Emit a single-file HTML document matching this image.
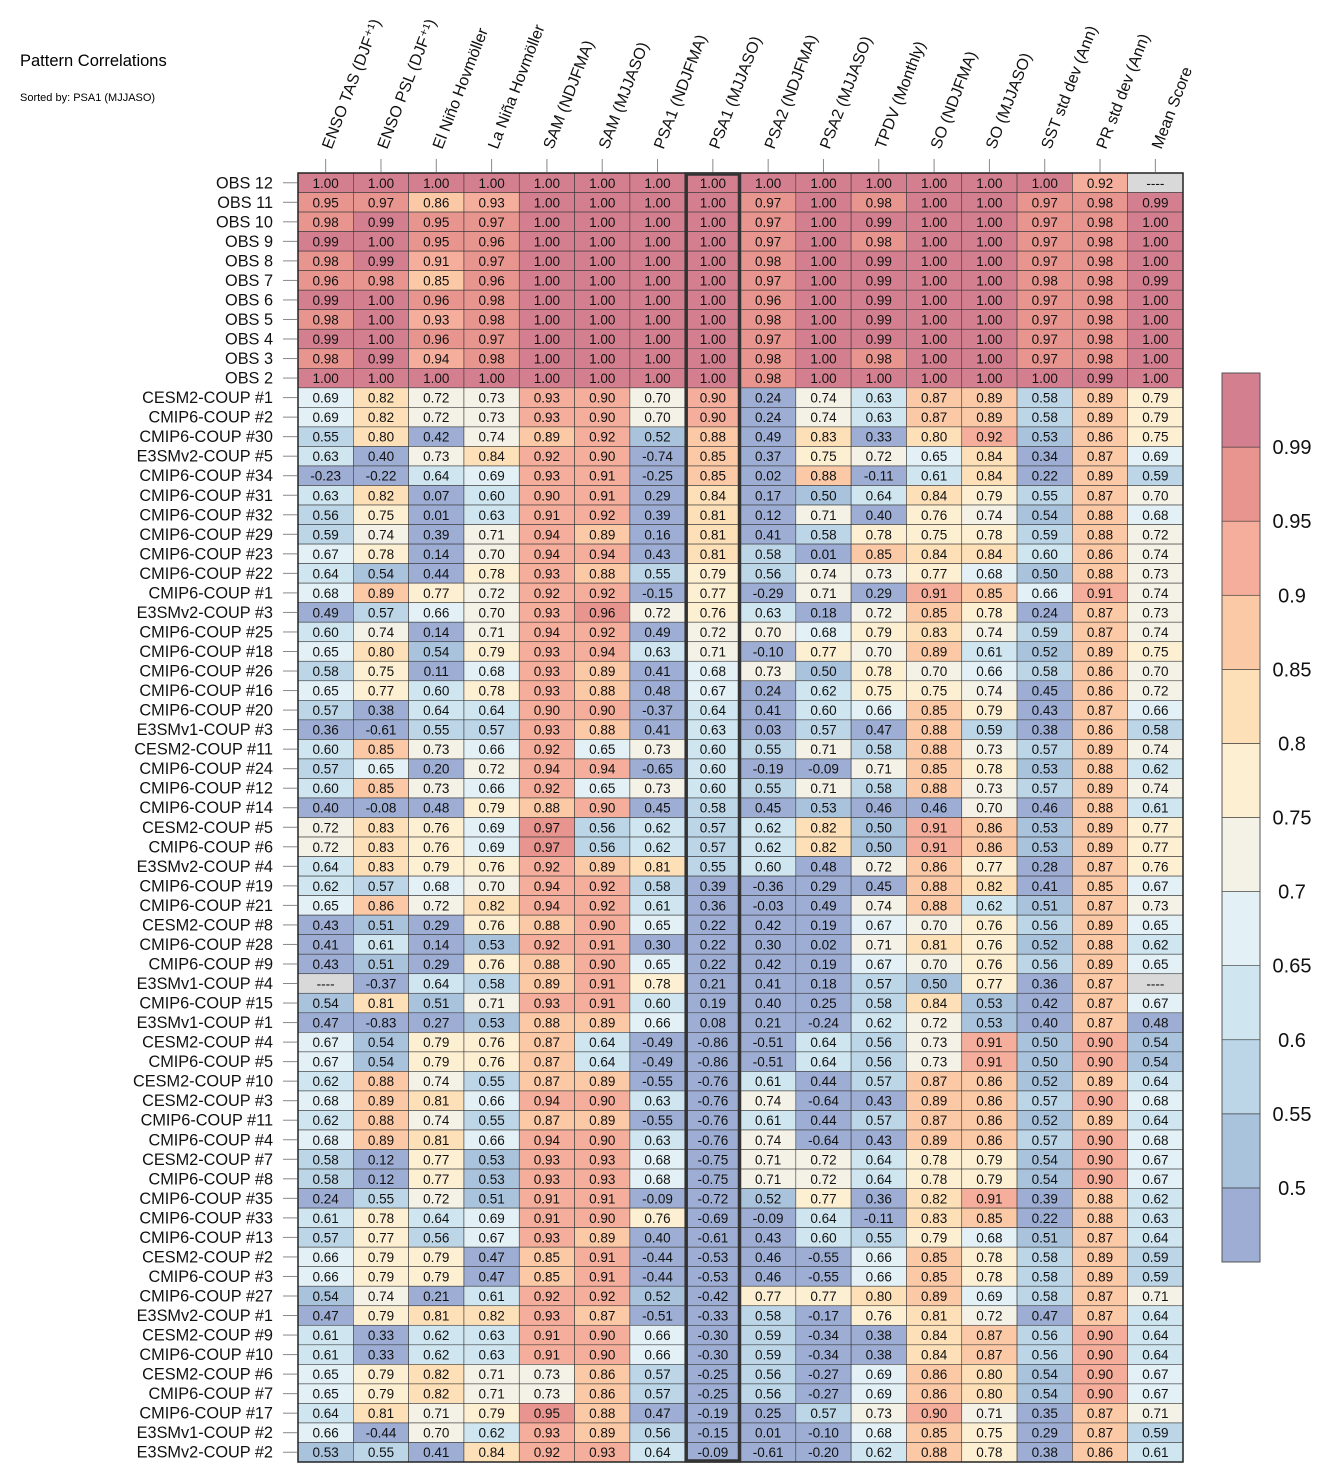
<!DOCTYPE html>
<html><head><meta charset="utf-8"><style>
body{margin:0;background:#fff;}
svg{display:block;font-family:"Liberation Sans",sans-serif;}
</style></head><body>
<svg id="chart" width="1333" height="1484" xmlns="http://www.w3.org/2000/svg">
<text x="20" y="66" font-size="16.5">Pattern Correlations</text>
<text x="20" y="101" font-size="11">Sorted by: PSA1 (MJJASO)</text>
<g id="cells"></g>
<g id="rowlabels"></g>
<g id="collabels"></g>
<g id="cbar"></g>
</svg>
<script>
const columns=["ENSO TAS (DJF⁺¹)","ENSO PSL (DJF⁺¹)","El Niño Hovmöller","La Niña Hovmöller","SAM (NDJFMA)","SAM (MJJASO)","PSA1 (NDJFMA)","PSA1 (MJJASO)","PSA2 (NDJFMA)","PSA2 (MJJASO)","TPDV (Monthly)","SO (NDJFMA)","SO (MJJASO)","SST std dev (Ann)","PR std dev (Ann)","Mean Score"];
const rows=["OBS 12","OBS 11","OBS 10","OBS 9","OBS 8","OBS 7","OBS 6","OBS 5","OBS 4","OBS 3","OBS 2","CESM2-COUP  #1","CMIP6-COUP  #2","CMIP6-COUP  #30","E3SMv2-COUP #5","CMIP6-COUP  #34","CMIP6-COUP  #31","CMIP6-COUP  #32","CMIP6-COUP  #29","CMIP6-COUP  #23","CMIP6-COUP  #22","CMIP6-COUP  #1","E3SMv2-COUP #3","CMIP6-COUP  #25","CMIP6-COUP  #18","CMIP6-COUP  #26","CMIP6-COUP  #16","CMIP6-COUP  #20","E3SMv1-COUP #3","CESM2-COUP  #11","CMIP6-COUP  #24","CMIP6-COUP  #12","CMIP6-COUP  #14","CESM2-COUP  #5","CMIP6-COUP  #6","E3SMv2-COUP #4","CMIP6-COUP  #19","CMIP6-COUP  #21","CESM2-COUP  #8","CMIP6-COUP  #28","CMIP6-COUP  #9","E3SMv1-COUP #4","CMIP6-COUP  #15","E3SMv1-COUP #1","CESM2-COUP  #4","CMIP6-COUP  #5","CESM2-COUP  #10","CESM2-COUP  #3","CMIP6-COUP  #11","CMIP6-COUP  #4","CESM2-COUP  #7","CMIP6-COUP  #8","CMIP6-COUP  #35","CMIP6-COUP  #33","CMIP6-COUP  #13","CESM2-COUP  #2","CMIP6-COUP  #3","CMIP6-COUP  #27","E3SMv2-COUP #1","CESM2-COUP  #9","CMIP6-COUP  #10","CESM2-COUP  #6","CMIP6-COUP  #7","CMIP6-COUP  #17","E3SMv1-COUP #2","E3SMv2-COUP #2"];
const N=null;
const values=[
[1.00,1.00,1.00,1.00,1.00,1.00,1.00,1.00,1.00,1.00,1.00,1.00,1.00,1.00,0.92,N],
[0.95,0.97,0.86,0.93,1.00,1.00,1.00,1.00,0.97,1.00,0.98,1.00,1.00,0.97,0.98,0.99],
[0.98,0.99,0.95,0.97,1.00,1.00,1.00,1.00,0.97,1.00,0.99,1.00,1.00,0.97,0.98,1.00],
[0.99,1.00,0.95,0.96,1.00,1.00,1.00,1.00,0.97,1.00,0.98,1.00,1.00,0.97,0.98,1.00],
[0.98,0.99,0.91,0.97,1.00,1.00,1.00,1.00,0.98,1.00,0.99,1.00,1.00,0.97,0.98,1.00],
[0.96,0.98,0.85,0.96,1.00,1.00,1.00,1.00,0.97,1.00,0.99,1.00,1.00,0.98,0.98,0.99],
[0.99,1.00,0.96,0.98,1.00,1.00,1.00,1.00,0.96,1.00,0.99,1.00,1.00,0.97,0.98,1.00],
[0.98,1.00,0.93,0.98,1.00,1.00,1.00,1.00,0.98,1.00,0.99,1.00,1.00,0.97,0.98,1.00],
[0.99,1.00,0.96,0.97,1.00,1.00,1.00,1.00,0.97,1.00,0.99,1.00,1.00,0.97,0.98,1.00],
[0.98,0.99,0.94,0.98,1.00,1.00,1.00,1.00,0.98,1.00,0.98,1.00,1.00,0.97,0.98,1.00],
[1.00,1.00,1.00,1.00,1.00,1.00,1.00,1.00,0.98,1.00,1.00,1.00,1.00,1.00,0.99,1.00],
[0.69,0.82,0.72,0.73,0.93,0.90,0.70,0.90,0.24,0.74,0.63,0.87,0.89,0.58,0.89,0.79],
[0.69,0.82,0.72,0.73,0.93,0.90,0.70,0.90,0.24,0.74,0.63,0.87,0.89,0.58,0.89,0.79],
[0.55,0.80,0.42,0.74,0.89,0.92,0.52,0.88,0.49,0.83,0.33,0.80,0.92,0.53,0.86,0.75],
[0.63,0.40,0.73,0.84,0.92,0.90,-0.74,0.85,0.37,0.75,0.72,0.65,0.84,0.34,0.87,0.69],
[-0.23,-0.22,0.64,0.69,0.93,0.91,-0.25,0.85,0.02,0.88,-0.11,0.61,0.84,0.22,0.89,0.59],
[0.63,0.82,0.07,0.60,0.90,0.91,0.29,0.84,0.17,0.50,0.64,0.84,0.79,0.55,0.87,0.70],
[0.56,0.75,0.01,0.63,0.91,0.92,0.39,0.81,0.12,0.71,0.40,0.76,0.74,0.54,0.88,0.68],
[0.59,0.74,0.39,0.71,0.94,0.89,0.16,0.81,0.41,0.58,0.78,0.75,0.78,0.59,0.88,0.72],
[0.67,0.78,0.14,0.70,0.94,0.94,0.43,0.81,0.58,0.01,0.85,0.84,0.84,0.60,0.86,0.74],
[0.64,0.54,0.44,0.78,0.93,0.88,0.55,0.79,0.56,0.74,0.73,0.77,0.68,0.50,0.88,0.73],
[0.68,0.89,0.77,0.72,0.92,0.92,-0.15,0.77,-0.29,0.71,0.29,0.91,0.85,0.66,0.91,0.74],
[0.49,0.57,0.66,0.70,0.93,0.96,0.72,0.76,0.63,0.18,0.72,0.85,0.78,0.24,0.87,0.73],
[0.60,0.74,0.14,0.71,0.94,0.92,0.49,0.72,0.70,0.68,0.79,0.83,0.74,0.59,0.87,0.74],
[0.65,0.80,0.54,0.79,0.93,0.94,0.63,0.71,-0.10,0.77,0.70,0.89,0.61,0.52,0.89,0.75],
[0.58,0.75,0.11,0.68,0.93,0.89,0.41,0.68,0.73,0.50,0.78,0.70,0.66,0.58,0.86,0.70],
[0.65,0.77,0.60,0.78,0.93,0.88,0.48,0.67,0.24,0.62,0.75,0.75,0.74,0.45,0.86,0.72],
[0.57,0.38,0.64,0.64,0.90,0.90,-0.37,0.64,0.41,0.60,0.66,0.85,0.79,0.43,0.87,0.66],
[0.36,-0.61,0.55,0.57,0.93,0.88,0.41,0.63,0.03,0.57,0.47,0.88,0.59,0.38,0.86,0.58],
[0.60,0.85,0.73,0.66,0.92,0.65,0.73,0.60,0.55,0.71,0.58,0.88,0.73,0.57,0.89,0.74],
[0.57,0.65,0.20,0.72,0.94,0.94,-0.65,0.60,-0.19,-0.09,0.71,0.85,0.78,0.53,0.88,0.62],
[0.60,0.85,0.73,0.66,0.92,0.65,0.73,0.60,0.55,0.71,0.58,0.88,0.73,0.57,0.89,0.74],
[0.40,-0.08,0.48,0.79,0.88,0.90,0.45,0.58,0.45,0.53,0.46,0.46,0.70,0.46,0.88,0.61],
[0.72,0.83,0.76,0.69,0.97,0.56,0.62,0.57,0.62,0.82,0.50,0.91,0.86,0.53,0.89,0.77],
[0.72,0.83,0.76,0.69,0.97,0.56,0.62,0.57,0.62,0.82,0.50,0.91,0.86,0.53,0.89,0.77],
[0.64,0.83,0.79,0.76,0.92,0.89,0.81,0.55,0.60,0.48,0.72,0.86,0.77,0.28,0.87,0.76],
[0.62,0.57,0.68,0.70,0.94,0.92,0.58,0.39,-0.36,0.29,0.45,0.88,0.82,0.41,0.85,0.67],
[0.65,0.86,0.72,0.82,0.94,0.92,0.61,0.36,-0.03,0.49,0.74,0.88,0.62,0.51,0.87,0.73],
[0.43,0.51,0.29,0.76,0.88,0.90,0.65,0.22,0.42,0.19,0.67,0.70,0.76,0.56,0.89,0.65],
[0.41,0.61,0.14,0.53,0.92,0.91,0.30,0.22,0.30,0.02,0.71,0.81,0.76,0.52,0.88,0.62],
[0.43,0.51,0.29,0.76,0.88,0.90,0.65,0.22,0.42,0.19,0.67,0.70,0.76,0.56,0.89,0.65],
[N,-0.37,0.64,0.58,0.89,0.91,0.78,0.21,0.41,0.18,0.57,0.50,0.77,0.36,0.87,N],
[0.54,0.81,0.51,0.71,0.93,0.91,0.60,0.19,0.40,0.25,0.58,0.84,0.53,0.42,0.87,0.67],
[0.47,-0.83,0.27,0.53,0.88,0.89,0.66,0.08,0.21,-0.24,0.62,0.72,0.53,0.40,0.87,0.48],
[0.67,0.54,0.79,0.76,0.87,0.64,-0.49,-0.86,-0.51,0.64,0.56,0.73,0.91,0.50,0.90,0.54],
[0.67,0.54,0.79,0.76,0.87,0.64,-0.49,-0.86,-0.51,0.64,0.56,0.73,0.91,0.50,0.90,0.54],
[0.62,0.88,0.74,0.55,0.87,0.89,-0.55,-0.76,0.61,0.44,0.57,0.87,0.86,0.52,0.89,0.64],
[0.68,0.89,0.81,0.66,0.94,0.90,0.63,-0.76,0.74,-0.64,0.43,0.89,0.86,0.57,0.90,0.68],
[0.62,0.88,0.74,0.55,0.87,0.89,-0.55,-0.76,0.61,0.44,0.57,0.87,0.86,0.52,0.89,0.64],
[0.68,0.89,0.81,0.66,0.94,0.90,0.63,-0.76,0.74,-0.64,0.43,0.89,0.86,0.57,0.90,0.68],
[0.58,0.12,0.77,0.53,0.93,0.93,0.68,-0.75,0.71,0.72,0.64,0.78,0.79,0.54,0.90,0.67],
[0.58,0.12,0.77,0.53,0.93,0.93,0.68,-0.75,0.71,0.72,0.64,0.78,0.79,0.54,0.90,0.67],
[0.24,0.55,0.72,0.51,0.91,0.91,-0.09,-0.72,0.52,0.77,0.36,0.82,0.91,0.39,0.88,0.62],
[0.61,0.78,0.64,0.69,0.91,0.90,0.76,-0.69,-0.09,0.64,-0.11,0.83,0.85,0.22,0.88,0.63],
[0.57,0.77,0.56,0.67,0.93,0.89,0.40,-0.61,0.43,0.60,0.55,0.79,0.68,0.51,0.87,0.64],
[0.66,0.79,0.79,0.47,0.85,0.91,-0.44,-0.53,0.46,-0.55,0.66,0.85,0.78,0.58,0.89,0.59],
[0.66,0.79,0.79,0.47,0.85,0.91,-0.44,-0.53,0.46,-0.55,0.66,0.85,0.78,0.58,0.89,0.59],
[0.54,0.74,0.21,0.61,0.92,0.92,0.52,-0.42,0.77,0.77,0.80,0.89,0.69,0.58,0.87,0.71],
[0.47,0.79,0.81,0.82,0.93,0.87,-0.51,-0.33,0.58,-0.17,0.76,0.81,0.72,0.47,0.87,0.64],
[0.61,0.33,0.62,0.63,0.91,0.90,0.66,-0.30,0.59,-0.34,0.38,0.84,0.87,0.56,0.90,0.64],
[0.61,0.33,0.62,0.63,0.91,0.90,0.66,-0.30,0.59,-0.34,0.38,0.84,0.87,0.56,0.90,0.64],
[0.65,0.79,0.82,0.71,0.73,0.86,0.57,-0.25,0.56,-0.27,0.69,0.86,0.80,0.54,0.90,0.67],
[0.65,0.79,0.82,0.71,0.73,0.86,0.57,-0.25,0.56,-0.27,0.69,0.86,0.80,0.54,0.90,0.67],
[0.64,0.81,0.71,0.79,0.95,0.88,0.47,-0.19,0.25,0.57,0.73,0.90,0.71,0.35,0.87,0.71],
[0.66,-0.44,0.70,0.62,0.93,0.89,0.56,-0.15,0.01,-0.10,0.68,0.85,0.75,0.29,0.87,0.59],
[0.53,0.55,0.41,0.84,0.92,0.93,0.64,-0.09,-0.61,-0.20,0.62,0.88,0.78,0.38,0.86,0.61]
];
const levels=[0.5,0.55,0.6,0.65,0.7,0.75,0.8,0.85,0.9,0.95,0.99];
const levelLabels=["0.5","0.55","0.6","0.65","0.7","0.75","0.8","0.85","0.9","0.95","0.99"];
const palette=["#9dadd3","#aac3dd","#bcd6e8","#cfe6f0","#e3f1f6","#f4f2e7","#fdefd2","#fde0b8","#fbc9a6","#f4ae9b","#e8958f","#d47f8f"];
const highlightCol=7;

const NS="http://www.w3.org/2000/svg";
const X0=298,X1=1183,Y0=173,Y1=1462;
const cw=(X1-X0)/columns.length, rh=(Y1-Y0)/rows.length;
const xPos=i=>X0+i*cw, yPos=j=>Y0+j*rh;
function colorOf(v){if(v===null)return "#d9d9d9";let k=0;for(const l of levels){if(v>=l-1e-9)k++;}return palette[k];}
function mk(tag,attrs,parent){const e=document.createElementNS(NS,tag);for(const k in attrs)e.setAttribute(k,attrs[k]);parent.appendChild(e);return e;}
const gC=document.getElementById('cells'),gR=document.getElementById('rowlabels'),gL=document.getElementById('collabels'),gB=document.getElementById('cbar');
values.forEach((row,j)=>{row.forEach((v,i)=>{
  const r=mk('rect',{x:xPos(i),y:yPos(j),width:cw,height:rh,fill:colorOf(v),stroke:'#3a3a3a','stroke-width':0.6},gC);
  
  
  const t=mk('text',{x:xPos(i)+cw/2,y:yPos(j)+rh/2+5,'text-anchor':'middle','font-size':13.5,fill:'#111'},gC);
  
  
  t.textContent=v===null?'----':v.toFixed(2);
});});
mk('rect',{x:X0,y:Y0,width:X1-X0,height:Y1-Y0,fill:'none',stroke:'#222','stroke-width':1.5},gC);
const hl=mk('rect',{x:xPos(highlightCol)+1,y:Y0+1,width:cw-2,height:Y1-Y0-2,fill:'none',stroke:'#333','stroke-width':3.5},gC);


rows.forEach((name,j)=>{
  const cy=yPos(j)+rh/2;
  mk('line',{x1:283,x2:297,y1:cy,y2:cy,stroke:'#888','stroke-width':1},gR);
  const t=mk('text',{x:273,y:cy+5.5,'text-anchor':'end','font-size':16.3,fill:'#111','xml:space':'preserve'},gR);
  
  
  t.textContent=name;
});
columns.forEach((name,i)=>{
  const cx=xPos(i)+cw/2;
  mk('line',{x1:cx,x2:cx,y1:159,y2:172,stroke:'#888','stroke-width':1},gL);
  const t=mk('text',{x:0,y:0,'font-size':16,fill:'#111',transform:`translate(${cx+6},${150}) rotate(-69)`},gL);
  
  
  t.textContent=name;
});
const CBX=1222,CBW=38,CBY0=373,CBY1=1262;
const nb=palette.length, bh=(CBY1-CBY0)/nb;
palette.forEach((c,k)=>{
  const r=mk('rect',{x:CBX,y:CBY1-(k+1)*bh,width:CBW,height:bh,fill:c,stroke:'#333','stroke-width':0.6},gB);
  
  
});
mk('rect',{x:CBX,y:CBY0,width:CBW,height:CBY1-CBY0,fill:'none',stroke:'#555','stroke-width':1},gB);
levelLabels.forEach((lab,k)=>{
  const y=CBY1-(k+1)*bh;
  const t=mk('text',{x:1292,y:y+7,'text-anchor':'middle','font-size':20,fill:'#111'},gB);
  
  
  t.textContent=lab;
});
</script>
</body></html>
